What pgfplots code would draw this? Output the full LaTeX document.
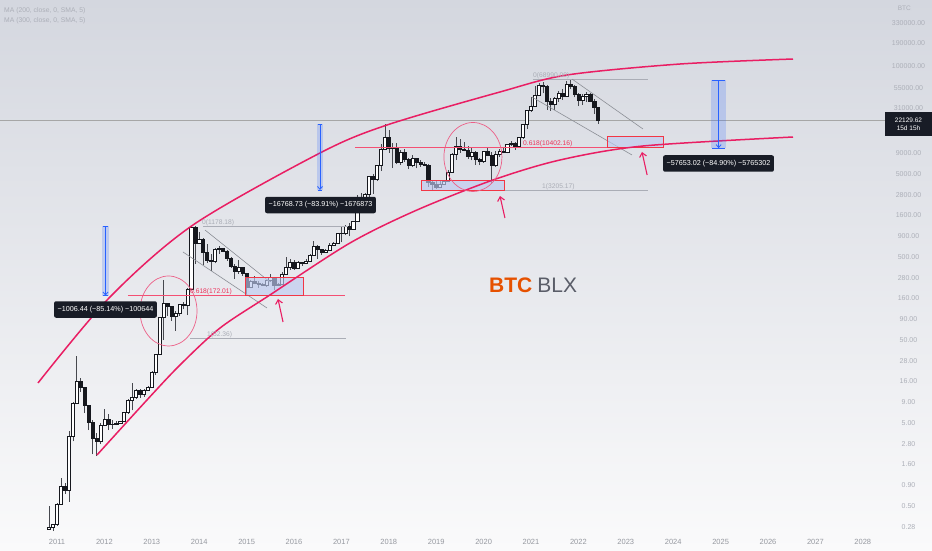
\documentclass[border=0pt]{standalone}
\usepackage{pgfplots}
\pgfplotsset{compat=1.18}
\usepackage{pgfplotstable}
\usepackage{fontspec}
\setmainfont{Liberation Sans}
\usetikzlibrary{arrows.meta}
\definecolor{bgtop}{RGB}{212,215,223}
\definecolor{bgmid}{RGB}{232,233,237}
\definecolor{bgbot}{RGB}{250,250,251}
\definecolor{candown}{RGB}{22,24,30}
\definecolor{candup}{RGB}{255,255,255}
\definecolor{wickc}{RGB}{70,72,78}
\definecolor{pinkc}{RGB}{233,30,99}
\definecolor{circc}{RGB}{236,96,136}
\definecolor{redbox}{RGB}{242,54,69}
\definecolor{boxfill}{RGB}{190,202,240}
\definecolor{fibredc}{RGB}{236,50,90}
\definecolor{fibline}{RGB}{244,80,115}
\definecolor{fibgreyc}{RGB}{170,173,182}
\definecolor{chang}{RGB}{140,143,150}
\definecolor{tvblue}{RGB}{41,98,255}
\definecolor{tipc}{RGB}{24,28,38}
\definecolor{xlab}{RGB}{150,153,160}
\definecolor{ylab}{RGB}{172,175,184}
\definecolor{btcor}{RGB}{230,81,0}
\definecolor{blxg}{RGB}{90,93,104}
\ExplSyntaxOn
\cs_new:Npn \candlefill #1#2 { \fp_compare:nNnTF {#1} > {#2} {candown} {candup} }
\ExplSyntaxOff
\pgfplotstableread{
m o h l c
-2 0.26 0.50 0.26 0.28
-1 0.28 0.30 0.25 0.30
0 0.30 0.55 0.29 0.52
1 0.52 1.10 0.52 0.86
2 0.86 0.95 0.70 0.78
3 0.78 4.00 0.56 3.50
4 3.50 8.90 3.00 8.74
5 8.74 31.9 8.70 16.10
6 16.1 17.5 12.0 13.35
7 13.35 13.5 6.6 8.20
8 8.20 8.2 4.1 5.14
9 5.14 5.5 2.1 3.25
10 3.25 3.8 2.0 3.00
11 3.00 5.0 2.8 4.72
12 4.72 7.4 4.6 5.50
13 5.50 6.4 4.1 4.86
14 4.86 5.4 4.3 4.90
15 4.90 5.3 4.7 4.95
16 4.95 5.2 4.9 5.20
17 5.20 6.8 5.2 6.70
18 6.70 9.8 6.5 9.40
19 9.40 15.4 7.1 10.20
20 10.2 12.9 9.8 12.40
21 12.4 12.9 10.1 11.20
22 11.2 12.9 10.4 12.60
23 12.6 14.0 12.4 13.50
24 13.5 21.0 13.2 20.40
25 20.4 34.0 19.0 33.40
26 33.4 95 33 93
27 93 266 50 139
28 139 140 97 129
29 129 130 85 97
30 97 111 65 106
31 106 136 97 135
32 135 143 117 133
33 133 215 100 204
34 204 1163 199 1129
35 1129 1178 411 732
36 732 1000 730 829
37 829 845 402 573
38 573 716 430 457
39 457 549 340 448
40 448 640 420 628
41 628 680 550 640
42 640 650 568 586
43 586 603 450 478
44 478 500 368 386
45 386 418 275 338
46 338 460 315 378
47 378 385 300 320
48 320 320 172 217
49 217 264 210 254
50 254 300 240 244
51 244 260 214 236
52 236 247 228 230
53 230 268 220 264
54 264 317 253 284
55 284 287 199 230
56 230 244 225 236
57 236 334 236 314
58 314 503 310 377
59 377 470 350 430
60 430 463 350 369
61 369 447 365 437
62 437 440 394 416
63 416 468 412 448
64 448 552 440 531
65 531 780 520 670
66 670 700 480 624
67 624 630 530 574
68 574 625 570 608
69 608 740 605 699
70 699 755 690 742
71 742 980 740 964
72 964 1160 750 970
73 970 1210 930 1190
74 1190 1300 890 1080
75 1080 1350 1070 1348
76 1348 2800 1340 2300
77 2300 3000 2100 2480
78 2480 2950 1840 2870
79 2870 4800 2670 4740
80 4740 5000 2900 4340
81 4340 6500 4100 6450
82 6450 11400 5500 10000
83 10000 19984 9800 13880
84 13880 17200 9000 10200
85 10200 11800 5900 10300
86 10300 11700 6600 6920
87 6920 9800 6430 9240
88 9240 10000 7000 7490
89 7490 7780 5750 6390
90 6390 8500 6070 7730
91 7730 7800 5880 7030
92 7030 7400 6100 6630
93 6630 7000 6200 6370
94 6370 6600 3500 4040
95 4040 4300 3216 3740
96 3740 4100 3350 3460
97 3460 4200 3370 3820
98 3820 4160 3680 4100
99 4100 5600 4060 5320
100 5320 9100 5300 8560
101 8560 13900 7450 10820
102 10820 13200 9000 10090
103 10090 12330 9420 9600
104 9600 10900 7700 8300
105 8300 10400 7300 9200
106 9200 9500 6520 7570
107 7570 7750 6430 7190
108 7190 9600 6870 9350
109 9350 10500 8450 8530
110 8530 9190 3850 6410
111 6410 9470 6150 8630
112 8630 10070 8100 9450
113 9450 10400 8900 9140
114 9140 11450 8900 11350
115 11350 12480 10950 11650
116 11650 12090 9880 10780
117 10780 14100 10400 13800
118 13800 19900 13200 19700
119 19700 29300 17600 28990
120 28990 41950 28130 33110
121 33110 58350 32300 45140
122 45140 61780 44960 58800
123 58800 64900 47000 57750
124 57750 59600 30000 37330
125 37330 41300 28800 35040
126 35040 42400 29280 41460
127 41460 50500 37330 47100
128 47100 52900 39600 43820
129 43820 67000 43300 61300
130 61300 68990 53250 56900
131 56900 59100 42000 46300
132 46300 47990 32900 38500
133 38500 45800 34300 43160
134 43160 48200 37200 45540
135 45540 47450 37700 37640
136 37640 40000 26700 31800
137 31800 31980 20100 22130
}\candles
\pgfplotsset{
  wick/.style={draw=wickc, line width=0.55pt, forget plot},
  body/.style={draw=candown, line width=0.5pt, forget plot},
  chan/.style={draw=chang, line width=0.6pt, forget plot},
  curve/.style={draw=pinkc, line width=1.5pt, smooth, tension=0.5, forget plot},
  rbox/.style={draw=redbox, line width=0.6pt, fill=boxfill, fill opacity=0.65, forget plot},
  mbar/.style={draw=none, fill=tvblue, fill opacity=0.2, forget plot},
  mline/.style={draw=tvblue, line width=0.8pt, forget plot},
  parr/.style={draw=pinkc, line width=1.1pt, -{Straight Barb[length=4pt,width=7pt]}, forget plot},
}
\tikzset{
  tip/.style={fill=tipc, text=white, rounded corners=2pt, font=\fontsize{7.2}{8.5}\selectfont, inner xsep=3.5pt, inner ysep=0pt, minimum height=16.5pt},
  fibtxt/.style={inner sep=0pt, font=\fontsize{6.7}{8}\selectfont},
}
\begin{document}
\begin{tikzpicture}
\begin{axis}[
  scale only axis, width=932pt, height=550pt,
  xmin=-14.43, xmax=221.52,
  ymode=log, ymin=0.1478, ymax=626100,
  axis line style={draw=none}, tick style={draw=none},
  major tick length=0pt, minor tick length=0pt,
  xtick={0,12,...,204},
  xticklabels={2011,2012,2013,2014,2015,2016,2017,2018,2019,2020,2021,2022,2023,2024,2025,2026,2027,2028},
  xticklabel style={anchor=base, yshift=5.5pt, font=\fontsize{7.5}{9}\selectfont, text=xlab},
  ytick={0.28,0.5,0.9,1.6,2.8,5,9,16,28,50,90,160,280,500,900,1600,2800,5000,9000,31000,55000,100000,190000,330000},
  yticklabels={0.28,0.50,0.90,1.60,2.80,5.00,9.00,16.00,28.00,50.00,90.00,160.00,280.00,500.00,900.00,1600.00,2800.00,5000.00,9000.00,31000.00,55000.00,100000.00,190000.00,330000.00},
  yticklabel pos=right,
  yticklabel style={anchor=center, xshift=-23.5pt, font=\fontsize{7}{8}\selectfont, text=ylab},
  axis background/.style={top color=bgtop, middle color=bgmid, bottom color=bgbot},
  clip=true, no markers,
]
% current price line
\addplot[draw=gray!70, line width=0.5pt, forget plot] coordinates {(-14.43,22129.62) (209.6,22129.62)};
% candles
\pgfplotstablegetrowsof{\candles}
\pgfmathtruncatemacro\lastrow{\pgfplotsretval-1}
\pgfplotsforeachungrouped \i in {0,...,\lastrow}{%
  \pgfplotstablegetelem{\i}{m}\of\candles \let\cm\pgfplotsretval
  \pgfplotstablegetelem{\i}{o}\of\candles \let\co\pgfplotsretval
  \pgfplotstablegetelem{\i}{h}\of\candles \let\ch\pgfplotsretval
  \pgfplotstablegetelem{\i}{l}\of\candles \let\cl\pgfplotsretval
  \pgfplotstablegetelem{\i}{c}\of\candles \let\cc\pgfplotsretval
  \pgfmathsetmacro\xa{\cm-0.4}%
  \pgfmathsetmacro\xb{\cm+0.4}%
  \edef\doit{%
    \noexpand\addplot[wick] coordinates {(\cm,\cl) (\cm,\ch)};
    \noexpand\addplot[body, fill=\candlefill{\co}{\cc}] coordinates {(\xa,\co) (\xb,\co) (\xb,\cc) (\xa,\cc)} --cycle;
  }\doit
}
% fib levels
\draw[fibline, line width=1.5pt] (axis cs:17.97,172.01) -- (axis cs:72.91,172.01);
\draw[fibline, line width=1.5pt] (axis cs:75.44,10402.16) -- (axis cs:153.42,10402.16);
\draw[fibgreyc, line width=0.6pt] (axis cs:113.4,3205.17) -- (axis cs:149.6,3205.17);
\draw[fibgreyc, line width=0.6pt] (axis cs:37.0,1178.18) -- (axis cs:73.7,1178.18);
\draw[fibgreyc, line width=0.6pt] (axis cs:33.7,52.36) -- (axis cs:73.2,52.36);
\draw[fibgreyc, line width=0.6pt] (axis cs:120.5,68990) -- (axis cs:149.6,68990);
% channels
\addplot[chan] coordinates {(37.47,1060) (53.92,250.6)};
\addplot[chan] coordinates {(31.90,576) (53.16,121.8)};
\addplot[chan] coordinates {(130.38,69900) (148.35,17470)};
\addplot[chan] coordinates {(120.25,42400) (145.57,8495)};
% boxes
\addplot[rbox] coordinates {(47.59,172.01) (62.28,172.01) (62.28,288) (47.59,288)} --cycle;
\addplot[rbox] coordinates {(92.15,3216) (113.16,3216) (113.16,4246) (92.15,4246)} --cycle;
\addplot[rbox] coordinates {(139.24,10402) (153.42,10402) (153.42,14390) (139.24,14390)} --cycle;
% curves
\addplot[curve] coordinates {(-4.81,15.21) (13.42,165.3) (34.43,1218) (66.58,8977) (83.54,19520) (112.15,48800) (129.11,78150) (157.72,106000) (186.33,121800)};
\addplot[curve] coordinates {(10.13,2.064) (22.78,9.49) (31.14,25.05) (41.27,69.9) (53.92,175) (74.18,739.5) (91.14,1847) (110.38,4246) (127.34,7395) (148.35,10900) (186.33,13990)};
% measure bars
\addplot[mbar] coordinates {(11.39,171.74) (13.16,171.74) (13.16,1178.18) (11.39,1178.18)} --cycle;
\addplot[mline, -{Straight Barb[length=3pt,width=5pt]}] coordinates {(12.28,1178.18) (12.28,171.74)};
\addplot[mline] coordinates {(11.7,1178.18) (12.86,1178.18)};
\addplot[mline] coordinates {(11.7,171.74) (12.86,171.74)};
\addplot[mbar] coordinates {(65.9,3215) (67.25,3215) (67.25,19984) (65.9,19984)} --cycle;
\addplot[mline, -{Straight Barb[length=3pt,width=5pt]}] coordinates {(66.58,19984) (66.58,3215)};
\addplot[mline] coordinates {(66.0,19984) (67.16,19984)};
\addplot[mline] coordinates {(66.0,3215) (67.16,3215)};
\addplot[mbar] coordinates {(165.6,10254) (169.4,10254) (169.4,67907) (165.6,67907)} --cycle;
\addplot[mline, -{Straight Barb[length=3pt,width=5pt]}] coordinates {(167.5,67907) (167.5,10254)};
\addplot[mline] coordinates {(165.9,67907) (169.1,67907)};
\addplot[mline] coordinates {(165.9,10254) (169.1,10254)};
% pink arrows
\addplot[parr] coordinates {(57.22,82.6) (55.95,156.4)};
\addplot[parr] coordinates {(113.4,1479) (112.15,2722)};
\addplot[parr] coordinates {(149.4,4877) (148.1,9232)};
% circles
\draw[circc, line width=0.7pt] (axis cs:28.23,112.1) ellipse [x radius=28.5pt, y radius=35pt];
\draw[circc, line width=0.7pt] (axis cs:105.3,8036) ellipse [x radius=29pt, y radius=34.5pt];
% fib labels
\node[fibtxt, text=fibredc, anchor=base west, yshift=2pt] at (axis cs:33.67,172.01) {0.618(172.01)};
\node[fibtxt, text=fibredc, anchor=base west, yshift=2pt] at (axis cs:117.97,10402.16) {0.618(10402.16)};
\node[fibtxt, text=fibgreyc, anchor=base west, yshift=1.5pt] at (axis cs:122.78,3205.17) {1(3205.17)};
\node[fibtxt, text=fibgreyc, anchor=base west, yshift=1.5pt] at (axis cs:36.71,1178.18) {0(1178.18)};
\node[fibtxt, text=fibgreyc, anchor=base west, yshift=2pt] at (axis cs:37.97,52.36) {1(52.36)};
\node[fibtxt, text=fibgreyc, anchor=base west, yshift=2pt] at (axis cs:120.5,68990) {0(68990.00)};
% tooltips
\node[tip] at (axis cs:12.28,116.8) {−1006.44 (−85.14\%) −100644};
\node[tip] at (axis cs:66.71,2121) {−16768.73 (−83.91\%) −1676873};
\node[tip] at (axis cs:167.47,6712) {−57653.02 (−84.90\%) −5765302};
% title text
\node[anchor=base west, inner sep=0pt, font=\fontsize{21}{24}\selectfont] at (axis cs:109.37,184.7) {\textcolor{btcor}{\bfseries BTC}\hspace{5pt}\textcolor{blxg}{BLX}};
% legend text
\node[anchor=west, inner sep=0pt, text=ylab, font=\fontsize{6.8}{7.5}\selectfont] at (axis cs:-13.42,461500) {MA (200, close, 0, SMA, 5)};
\node[anchor=west, inner sep=0pt, text=ylab, font=\fontsize{6.8}{7.5}\selectfont] at (axis cs:-13.42,349700) {MA (300, close, 0, SMA, 5)};
\node[inner sep=1pt, fill=bgtop, text=ylab, font=\fontsize{6.5}{7}\selectfont] at (axis cs:214.5,501500) {BTC};
% price label
\node[fill=tipc, text=white, align=center, inner sep=1pt, font=\fontsize{6.5}{8}\selectfont, minimum width=47pt, minimum height=24pt] at (axis cs:215.57,20100) {22129.62\\15d 15h};
\coordinate (sw) at (rel axis cs:0,0);
\coordinate (ne) at (rel axis cs:1,1);
\end{axis}
\pgfresetboundingbox
\useasboundingbox (sw) rectangle (ne);
\end{tikzpicture}
\end{document}
